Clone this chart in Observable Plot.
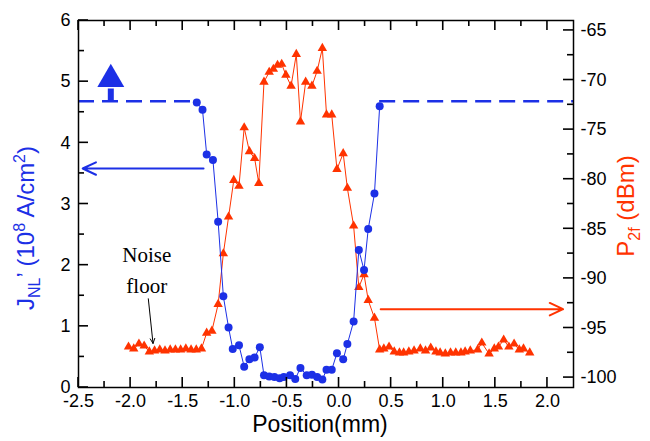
<!DOCTYPE html>
<html><head><meta charset="utf-8">
<script src="https://cdn.jsdelivr.net/npm/d3@7"></script>
<script src="https://cdn.jsdelivr.net/npm/@observablehq/plot@0.6"></script>
<style>html,body{margin:0;padding:0;background:#fff}#chart{width:650px;height:441px}</style>
</head><body><div id="chart"></div>
<script>
// J_NL' series (10^8 A/cm^2), left axis
const jX   = [-1.365,-1.31,-1.27,-1.21,-1.16,-1.11,-1.06,-1.02,-0.96,-0.91,-0.86,-0.81,-0.76,-0.72,-0.67,-0.62,-0.57,-0.53,-0.47,-0.42,-0.37,-0.31,-0.26,-0.21,-0.16,-0.12,-0.07,-0.02,0.04,0.08,0.14,0.19,0.24,0.28,0.34,0.39];
const jVal = [4.66,4.54,3.81,3.72,2.71,1.49,0.98,0.63,0.69,0.34,0.46,0.49,0.66,0.20,0.18,0.17,0.15,0.17,0.20,0.14,0.32,0.20,0.21,0.17,0.13,0.29,0.29,0.56,0.46,0.71,1.08,2.25,1.92,2.59,3.17,4.60];
// P_2f series (dBm), right axis
const pX   = [-2.02,-1.97,-1.92,-1.87,-1.82,-1.77,-1.72,-1.67,-1.62,-1.57,-1.52,-1.47,-1.42,-1.37,-1.32,-1.27,-1.22,-1.16,-1.11,-1.06,-1.01,-0.96,-0.91,-0.86,-0.81,-0.77,-0.72,-0.67,-0.63,-0.59,-0.55,-0.51,-0.46,-0.41,-0.37,-0.32,-0.26,-0.21,-0.16,-0.12,-0.07,-0.02,0.04,0.08,0.14,0.19,0.24,0.28,0.34,0.39,0.43,0.48,0.53,0.58,0.62,0.67,0.72,0.78,0.83,0.88,0.93,0.97,1.02,1.07,1.12,1.17,1.21,1.26,1.33,1.37,1.44,1.49,1.53,1.58,1.63,1.68,1.73,1.77,1.83];
const pVal = [-96.9,-97.1,-96.6,-96.8,-97.4,-97.3,-97.2,-97.3,-97.2,-97.2,-97.2,-97.1,-97.2,-97.2,-97.1,-95.5,-95.3,-92.6,-87.5,-83.8,-80.1,-80.7,-74.8,-77.2,-77.9,-80.4,-70.2,-69.2,-68.9,-68.5,-68.4,-69.5,-70.6,-67.4,-74.2,-70.2,-70.6,-69.1,-66.8,-73.5,-73.5,-79.0,-77.4,-80.9,-84.7,-90.9,-89.6,-92.2,-94.0,-97.2,-97.1,-96.9,-97.4,-97.5,-97.5,-97.4,-97.3,-97.1,-97.3,-97.0,-97.4,-97.5,-97.6,-97.5,-97.5,-97.5,-97.4,-97.3,-97.2,-96.5,-97.6,-97.1,-96.9,-96.2,-96.9,-96.6,-97.2,-97.1,-97.5];

// axes and ticks
const xDomain = [-2.5, 2.25];
const jDomain = [0, 6];
const pDomain = [-101, -64];
const xMajorTicks = [-2.5,-2.0,-1.5,-1.0,-0.5,0.0,0.5,1.0,1.5,2.0];
const xMinorTicks = [-2.25,-1.75,-1.25,-0.75,-0.25,0.25,0.75,1.25,1.75];
const leftMajorTicks = [0,1,2,3,4,5,6];
const leftMinorTicks = [0.5,1.5,2.5,3.5,4.5,5.5];
const rightMajorTicks = [-100,-95,-90,-85,-80,-75,-70,-65];
const rightMinorTicks = [-97.5,-92.5,-87.5,-82.5,-77.5,-72.5,-67.5];
const xLabel = "Position(mm)";

// annotations
const saturationLevel = 4.68;
const dashSegments = [{x1: -2.5, x2: -1.365}, {x1: 0.39, x2: 2.25}];
const upArrow = {x: -2.19, shaftFrom: 4.68, shaftTo: 4.88, head: 5.04};
const blueArrow = {x1: -1.30, x2: -2.46, y: 3.58};
const redArrow = {x1: 0.40, x2: 2.15, p: -93.1};
const noiseArrow = {x1: -1.83, y1: 1.45, x2: -1.785, y2: 0.72};
const noiseLabel = {x: -1.845, y: 1.96, text: "Noise\nfloor"};

const BLUE = "#1c30e6", RED = "#ff3300";
const W = 650, H = 441, ML = 78, MR = 77, MT = 20, MB = 54;
const MAJ = 10, MIN = 6; // tick lengths in px
const toLeft = p => (p - pDomain[0]) / (pDomain[1] - pDomain[0]) * (jDomain[1] - jDomain[0]) + jDomain[0];
const fromLeft = v => (v - jDomain[0]) / (jDomain[1] - jDomain[0]) * (pDomain[1] - pDomain[0]) + pDomain[0];

const jData = jX.map((x, i) => ({x, v: jVal[i]}));
const pData = pX.map((x, i) => ({x, v: toLeft(pVal[i])}));

const chart = Plot.plot({
  width: W, height: H,
  marginLeft: ML, marginRight: MR, marginTop: MT, marginBottom: MB,
  x: {domain: xDomain},
  y: {domain: jDomain},
  style: {fontFamily: "'Liberation Sans', Arial, sans-serif", fontSize: "18px", color: "#000", background: "#fff"},
  marks: [
    Plot.line(pData, {x: "x", y: "v", stroke: RED, strokeWidth: 1}),
    Plot.dot(pData, {x: "x", y: "v", symbol: "triangle", r: 3.5, fill: RED}),
    Plot.line(jData, {x: "x", y: "v", stroke: BLUE, strokeWidth: 1}),
    Plot.dot(jData, {x: "x", y: "v", r: 4, fill: BLUE}),
    Plot.ruleY(dashSegments, {y: () => saturationLevel, x1: "x1", x2: "x2", stroke: BLUE, strokeWidth: 2.5, strokeDasharray: "16,8"}),
    Plot.ruleX([upArrow], {x: "x", y1: "shaftFrom", y2: "shaftTo", stroke: BLUE, strokeWidth: 6}),
    Plot.dot([upArrow], {x: "x", y: "head", symbol: "triangle", r: 10, fill: BLUE}),
    Plot.arrow([blueArrow], {x1: "x1", x2: "x2", y1: "y", y2: "y", stroke: BLUE, strokeWidth: 2, headLength: 11, headAngle: 50}),
    Plot.arrow([redArrow], {x1: "x1", x2: "x2", y1: d => toLeft(d.p), y2: d => toLeft(d.p), stroke: RED, strokeWidth: 2, headLength: 11, headAngle: 50}),
    Plot.arrow([noiseArrow], {x1: "x1", y1: "y1", x2: "x2", y2: "y2", stroke: "#000", strokeWidth: 1, headLength: 8, headAngle: 50}),
    Plot.text([noiseLabel], {x: "x", y: "y", text: "text", fontFamily: "'Liberation Serif', 'Times New Roman', serif", fontSize: 21, lineHeight: 1.45, fill: "#000"}),
    Plot.axisX(xMajorTicks, {anchor: "bottom", tickSize: 0, tickPadding: 7, tickFormat: d => d.toFixed(1), label: null, fontSize: 18}),
    Plot.axisY(leftMajorTicks, {anchor: "left", tickSize: 0, tickPadding: 8, tickFormat: d => String(d), label: null, fontSize: 18}),
    Plot.axisY(rightMajorTicks.map(toLeft), {anchor: "right", tickSize: 0, tickPadding: 7, tickFormat: d => String(Math.round(fromLeft(d))), label: null, fontSize: 18}),
    Plot.text([xLabel], {frameAnchor: "bottom", dy: 44, dx: -6, text: d => d, fontSize: 23, fill: "#000"}),
    Plot.frame({stroke: "#000", strokeWidth: 1.5})
  ]
});
document.getElementById("chart").appendChild(chart);

// inward tick marks, positioned with the plot's own scales
const svg = d3.select(chart);
const sx = chart.scale("x"), sy = chart.scale("y");
const X0 = sx.apply(xDomain[0]), X1 = sx.apply(xDomain[1]);
const Y0 = sy.apply(jDomain[0]), Y1 = sy.apply(jDomain[1]);
const tg = svg.append("g").attr("stroke", "#000").attr("stroke-width", 1.6);
function hLine(x, len) {
  const px = sx.apply(x);
  tg.append("line").attr("x1", px).attr("x2", px).attr("y1", Y0).attr("y2", Y0 - len);
  tg.append("line").attr("x1", px).attr("x2", px).attr("y1", Y1).attr("y2", Y1 + len);
}
function lLine(v, len) {
  const py = sy.apply(v);
  tg.append("line").attr("x1", X0).attr("x2", X0 + len).attr("y1", py).attr("y2", py);
}
function rLine(p, len) {
  const py = sy.apply(toLeft(p));
  tg.append("line").attr("x1", X1).attr("x2", X1 - len).attr("y1", py).attr("y2", py);
}
xMajorTicks.forEach(v => hLine(v, MAJ));
xMinorTicks.forEach(v => hLine(v, MIN));
leftMajorTicks.forEach(v => lLine(v, MAJ));
leftMinorTicks.forEach(v => lLine(v, MIN));
rightMajorTicks.forEach(v => rLine(v, MAJ));
rightMinorTicks.forEach(v => rLine(v, MIN));

// rotated axis titles with sub/superscripts
const FONT = "'Liberation Sans', Arial, sans-serif";
const lt = svg.append("text")
  .attr("transform", "translate(34,228) rotate(-90)")
  .attr("text-anchor", "middle").attr("fill", BLUE)
  .attr("font-family", FONT).attr("font-size", 24).style("white-space", "pre");
lt.append("tspan").text("J");
lt.append("tspan").attr("font-size", 16).attr("dy", 6).text("NL");
lt.append("tspan").attr("dy", -6).text("’ (10");
lt.append("tspan").attr("font-size", 16).attr("dy", -9).text("8");
lt.append("tspan").attr("dy", 9).text(" A/cm");
lt.append("tspan").attr("font-size", 16).attr("dy", -9).text("2");
lt.append("tspan").attr("dy", 9).text(")");

const rt = svg.append("text")
  .attr("transform", "translate(634,206) rotate(-90)")
  .attr("text-anchor", "middle").attr("fill", RED)
  .attr("font-family", FONT).attr("font-size", 24).style("white-space", "pre");
rt.append("tspan").text("P");
rt.append("tspan").attr("font-size", 16).attr("dy", 6).text("2f");
rt.append("tspan").attr("dy", -6).text(" (dBm)");
</script>
</body></html>
